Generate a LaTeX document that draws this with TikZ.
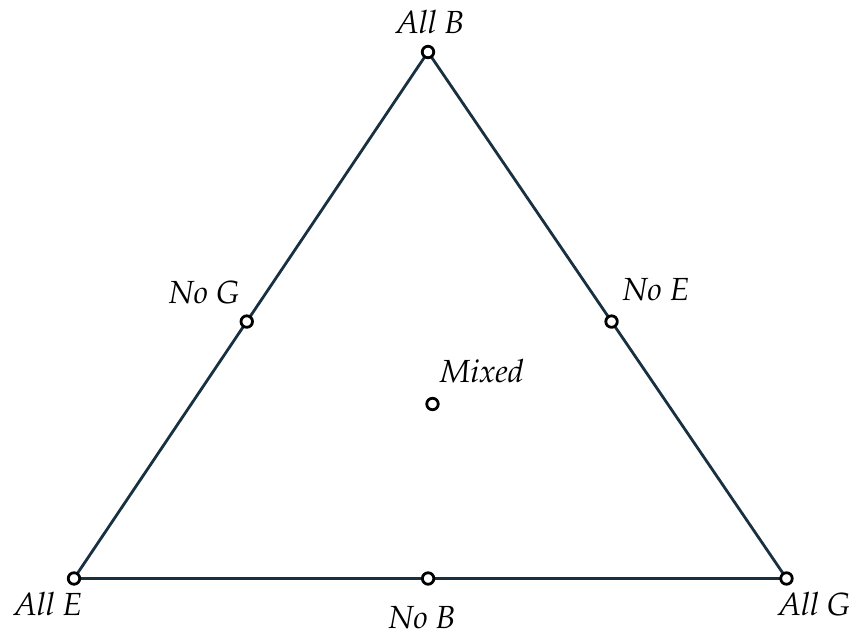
\documentclass[tikz,border=0pt]{standalone}
\usepackage[T1]{fontenc}
\usepackage{mathpazo}
\usetikzlibrary{calc}
\definecolor{edgecol}{HTML}{18303F}
\begin{document}
\begin{tikzpicture}[x=1pt,y=-1pt,
  pt/.style={circle,draw=black,fill=white,line width=2.8pt,inner sep=0pt,minimum size=11.5pt},
  edge/.style={draw=edgecol,line width=2.8pt},
  lab/.style={font=\fontsize{32}{36}\selectfont\itshape,inner sep=0pt,anchor=base}]
\useasboundingbox (0,0) rectangle (857,637);
\coordinate (cB) at (428,52);
\coordinate (cE) at (74,578.5);
\coordinate (cG) at (786.5,578.5);
\draw[edge] (cB) -- (cE) -- (cG) -- cycle;
\node[pt] (B) at (cB) {};
\node[pt] (E) at (cE) {};
\node[pt] (G) at (cG) {};
\node[pt] (NG) at ($(cB)!0.512!(cE)$) {};
\node[pt] (NE) at ($(cB)!0.512!(cG)$) {};
\node[pt] (NB) at ($(cE)!0.497!(cG)$) {};
\node[pt] (M) at (432.5,404) {};
\node[lab] (lB) at (430,33) {All B};
\node[lab] (lE) at (48,615) {All E};
\node[lab] (lG) at (814,615) {All G};
\node[lab] (lNB) at (422,628) {No B};
\node[lab] (lNG) at (204,303) {No G};
\node[lab] (lNE) at (656,300) {No E};
\node[lab] (lM) at (482,382) {Mixed};
\end{tikzpicture}
\end{document}
